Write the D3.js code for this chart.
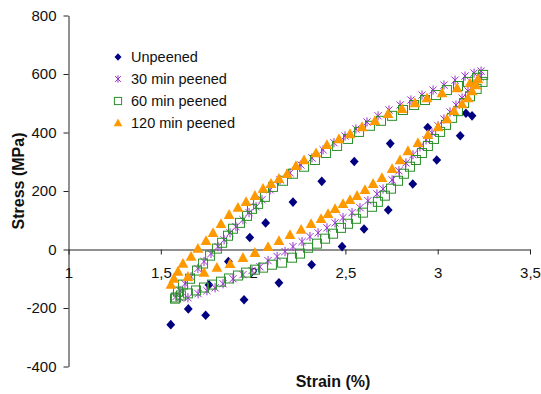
<!DOCTYPE html>
<html>
<head>
<meta charset="utf-8">
<script src="https://cdn.jsdelivr.net/npm/d3@7"></script>
<style>
  body { margin: 0; background: #fff; }
  text { font-family: Arial, "Liberation Sans", sans-serif; fill: #111; }
</style>
</head>
<body>
<svg id="chart" width="541" height="394"></svg>
<script>
// tick values
const xTicks = [1, 1.5, 2, 2.5, 3, 3.5];
const yTicks = [-400, -200, 0, 200, 400, 600, 800];
const seriesNames = ["Unpeened", "30 min peened", "60 min peened", "120 min peened"];

// [strain %, stress MPa]
const unpeened = [
  [1.554, -257], [1.649, -203], [1.743, -225], [1.761, -121], [1.866, -41], [1.951, -172],
  [1.982, 41], [2.068, 91], [2.140, -114], [2.216, 162], [2.317, -52], [2.372, 233],
  [2.482, 10], [2.548, 301], [2.601, 70], [2.732, 135], [2.743, 362], [2.865, 224],
  [2.946, 417], [2.995, 306], [3.122, 389], [3.153, 466], [3.186, 457]
];

const peened30 = [
  [1.582, -161], [1.604, -141], [1.631, -117], [1.664, -93], [1.701, -65], [1.734, -41],
  [1.772, -14], [1.810, 10], [1.843, 33], [1.875, 57], [1.907, 78], [1.945, 102],
  [1.978, 126], [2.016, 146], [2.048, 170], [2.092, 204], [2.146, 238], [2.200, 262],
  [2.259, 289], [2.319, 313], [2.379, 341], [2.438, 365], [2.498, 388], [2.557, 412],
  [2.617, 436], [2.677, 457], [2.736, 477], [2.796, 494], [2.855, 511], [2.915, 528],
  [2.975, 545], [3.034, 562], [3.094, 579], [3.148, 593], [3.197, 603], [3.235, 610],
  [3.229, 590], [3.197, 566], [3.164, 542], [3.132, 518], [3.099, 494], [3.067, 470],
  [3.034, 446], [3.002, 423], [2.969, 399], [2.937, 375], [2.904, 351], [2.866, 324],
  [2.828, 296], [2.790, 269], [2.753, 238], [2.704, 207], [2.671, 190], [2.622, 167],
  [2.579, 143], [2.536, 126], [2.487, 109], [2.444, 91], [2.400, 74], [2.352, 57],
  [2.308, 44], [2.265, 27], [2.216, 10], [2.173, -7], [2.130, -24], [2.081, -38],
  [2.037, -59], [1.994, -72], [1.945, -86], [1.891, -100], [1.837, -117], [1.794, -131],
  [1.750, -141], [1.702, -151], [1.647, -165], [1.604, -165]
];

const peened60 = [
  [1.577, -168], [1.593, -144], [1.620, -120], [1.658, -100], [1.696, -72], [1.729, -48],
  [1.767, -21], [1.804, 3], [1.832, 23], [1.864, 47], [1.891, 71], [1.929, 91],
  [1.967, 115], [1.994, 139], [2.027, 156], [2.064, 180], [2.108, 214], [2.162, 235],
  [2.216, 259], [2.276, 283], [2.335, 306], [2.395, 330], [2.455, 354], [2.514, 378],
  [2.574, 402], [2.633, 423], [2.693, 440], [2.753, 457], [2.812, 477], [2.872, 494],
  [2.931, 511], [2.991, 528], [3.050, 545], [3.110, 559], [3.164, 573], [3.213, 587],
  [3.246, 597],
  [3.243, 573], [3.211, 549], [3.175, 524], [3.143, 501], [3.110, 473], [3.078, 450],
  [3.045, 426], [3.013, 402], [2.980, 378], [2.947, 354], [2.915, 330], [2.882, 306],
  [2.850, 283], [2.817, 259], [2.785, 235], [2.747, 208], [2.714, 184], [2.676, 163],
  [2.644, 146], [2.595, 126], [2.557, 105], [2.514, 88], [2.476, 74], [2.433, 54],
  [2.390, 37], [2.346, 20], [2.298, 6], [2.254, -14], [2.211, -28], [2.157, -45],
  [2.102, -52], [2.054, -62], [2.010, -69], [1.962, -79], [1.918, -89], [1.870, -99],
  [1.826, -110], [1.777, -120], [1.734, -130], [1.691, -140], [1.647, -150], [1.609, -157],
  [1.582, -164]
];

const peened120 = [
  [1.555, -120], [1.571, -99], [1.593, -75], [1.620, -48], [1.664, -24], [1.701, 3],
  [1.745, 30], [1.783, 57], [1.826, 88], [1.870, 119], [1.918, 143], [1.962, 163],
  [2.010, 184], [2.054, 208], [2.097, 225], [2.140, 242], [2.184, 259], [2.232, 286],
  [2.276, 306], [2.341, 330], [2.400, 358], [2.465, 378], [2.525, 395], [2.590, 419],
  [2.660, 440], [2.731, 464], [2.807, 481], [2.877, 501], [2.942, 518], [3.023, 535],
  [3.105, 552], [3.175, 569], [3.218, 583],
  [3.207, 562], [3.186, 542], [3.164, 518], [3.132, 497], [3.088, 474], [3.050, 446],
  [3.002, 419], [2.947, 392], [2.893, 365], [2.839, 337], [2.796, 306], [2.753, 276],
  [2.698, 245], [2.650, 225], [2.606, 204], [2.563, 184], [2.525, 170], [2.487, 156],
  [2.444, 139], [2.406, 122], [2.368, 105], [2.314, 88], [2.260, 68], [2.200, 50],
  [2.140, 30], [2.081, 9], [2.010, -11], [1.945, -28], [1.875, -49], [1.804, -62],
  [1.734, -79], [1.647, -93]
];

const svg = d3.select("#chart");

const x = d3.scaleLinear().domain([1, 3.5]).range([68.5, 530]);
const y = d3.scaleLinear().domain([-400, 800]).range([366.5, 15.5]);

// marker shapes, drawn around 0,0
const markers = {
  diamond: (g, s) => g.append("path")
    .attr("d", `M0,${-4.8 * s}L${4.4 * s},0L0,${4.8 * s}L${-4.4 * s},0Z`)
    .attr("fill", "#000080"),
  star: (g, s) => g.append("path")
    .attr("d", `M${-3.6 * s},${-3.6 * s}L${3.6 * s},${3.6 * s}M${3.6 * s},${-3.6 * s}L${-3.6 * s},${3.6 * s}M0,${-4.6 * s}L0,${4.6 * s}`)
    .attr("stroke", "#9933cc").attr("stroke-width", 1).attr("fill", "none"),
  square: (g, s) => g.append("rect")
    .attr("x", -4.5 * s).attr("y", -4.5 * s).attr("width", 9 * s).attr("height", 9 * s)
    .attr("stroke", "#2a8f2a").attr("stroke-width", 1).attr("fill", "none"),
  triangle: (g, s) => g.append("path")
    .attr("d", `M0,${-5.6 * s}L${5.4 * s},${4.2 * s}L${-5.4 * s},${4.2 * s}Z`)
    .attr("fill", "#ff9900")
};

const series = [
  { data: unpeened, shape: "diamond" },
  { data: peened30, shape: "star" },
  { data: peened60, shape: "square" },
  { data: peened120, shape: "triangle" }
];

// axes
const yAxis = svg.append("g")
  .attr("transform", `translate(${x(1)},0)`)
  .call(d3.axisLeft(y).tickValues(yTicks).tickSize(5).tickSizeOuter(0).tickPadding(7)
    .tickFormat(d => String(d)));

const xAxis = svg.append("g")
  .attr("transform", `translate(0,${y(0)})`)
  .call(d3.axisBottom(x).tickValues(xTicks).tickSize(5).tickSizeOuter(0).tickPadding(13)
    .tickFormat(d => String(d).replace(".", ",")));

[yAxis, xAxis].forEach(a => {
  a.selectAll("path, line").attr("stroke", "#222");
  a.selectAll("text").attr("font-size", 15).attr("fill", "#111")
    .attr("font-family", "Arial, 'Liberation Sans', sans-serif");
});

// points
series.forEach(s => {
  svg.append("g").selectAll("g")
    .data(s.data)
    .enter()
    .append("g")
    .attr("transform", d => `translate(${x(d[0])},${y(d[1])})`)
    .each(function () { markers[s.shape](d3.select(this), 1); });
});

// legend
const legend = svg.append("g");
series.forEach((s, i) => {
  const row = legend.append("g").attr("transform", `translate(118,${57 + i * 22})`);
  markers[s.shape](row, 0.8);
  row.append("text")
    .attr("x", 13)
    .attr("dy", "0.36em")
    .attr("font-size", 14.5)
    .text(seriesNames[i]);
});

// axis titles
svg.append("text")
  .attr("x", 333)
  .attr("y", 387)
  .attr("text-anchor", "middle")
  .attr("font-size", 16)
  .attr("font-weight", "bold")
  .text("Strain (%)");

svg.append("text")
  .attr("transform", "translate(24,181) rotate(-90)")
  .attr("text-anchor", "middle")
  .attr("font-size", 16)
  .attr("font-weight", "bold")
  .text("Stress (MPa)");
</script>
</body>
</html>
